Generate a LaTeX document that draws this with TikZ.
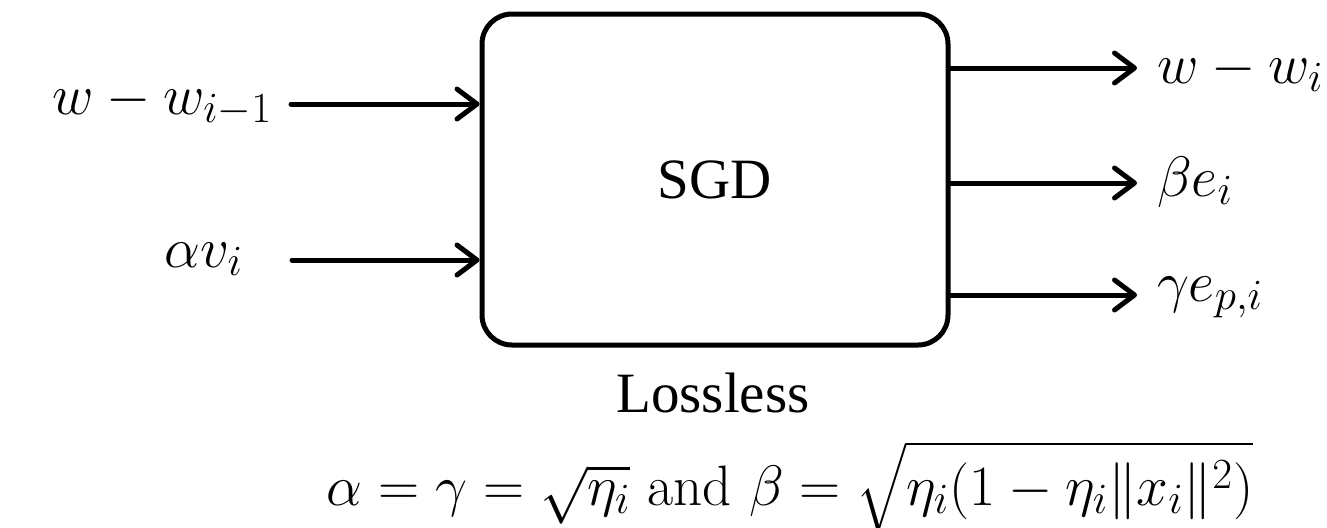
\documentclass[tikz,border=0pt]{standalone}
\usepackage{fix-cm}
\usepackage{fontspec}
\usepackage{amsmath}
\newfontfamily\timesfont{Liberation Serif}
\DeclareMathSizes{28.5}{28.5}{21.5}{16}
\usetikzlibrary{arrows.meta}
\begin{document}
\begin{tikzpicture}[x=0.5pt,y=-0.5pt,
  every node/.style={inner sep=0pt,outer sep=0pt,font=\fontsize{28.5}{34}\selectfont},
  textlbl/.style={font=\fontsize{28.5}{34}\timesfont},
  conn/.style={line width=2.5pt,line cap=round,-{Straight Barb[length=10pt,width=15pt,line cap=round,line join=round]}},
  blockbox/.style={draw,line width=2.5pt,rounded corners=15pt,minimum width=233pt,minimum height=165.5pt,outer sep=1.25pt,textlbl}]
\useasboundingbox (0,0) rectangle (1327,527);
\node[blockbox] (box) at (715,179.5) {SGD};
\node[anchor=base,textlbl] (lossless) at (713,412) {Lossless};
\node[anchor=base] (formula) at (790,505) {$\alpha=\gamma=\sqrt{\eta_i}\text{ and }\beta=\sqrt{\eta_i(1-\eta_i\|x_i\|^2)}$};
% inputs
\node[anchor=base east] (lin1) at (272,114) {$w-w_{i-1}$};
\node[anchor=base east] (lin2) at (243,267) {$\alpha v_i$};
\coordinate (s1) at (291,104);
\coordinate (s2) at (292,260);
\draw[conn] (s1) -- (s1 -| box.west);
\draw[conn] (s2) -- (s2 -| box.west);
% outputs
\coordinate (e1) at (1137,68);
\coordinate (e2) at (1137,183);
\coordinate (e3) at (1137,295);
\draw[conn] (e1 -| box.east) -- (e1);
\draw[conn] (e2 -| box.east) -- (e2);
\draw[conn] (e3 -| box.east) -- (e3);
\node[anchor=base west] (lout1) at (1157,83) {$w-w_i$};
\node[anchor=base west] (lout2) at (1157,196) {$\beta e_i$};
\node[anchor=base west] (lout3) at (1157,301) {$\gamma e_{p,i}$};
\end{tikzpicture}
\end{document}
